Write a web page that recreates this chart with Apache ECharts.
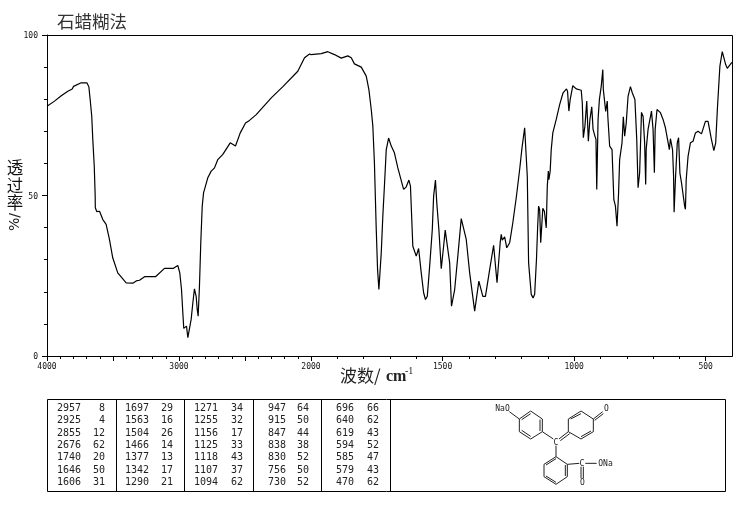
<!DOCTYPE html>
<html><head><meta charset="utf-8">
<style>html,body{margin:0;padding:0;background:#fff}#c{width:737px;height:510px}</style>
<script src="https://cdn.jsdelivr.net/npm/echarts@6/dist/echarts.min.js"></script></head>
<body><div id="c"></div>
<script>
const wavenumbers=[4000,3943,3892,3842,3809,3799,3741,3698,3683,3673,3661,3653,3642,3635,3634,3623,3602,3577,3552,3527,3502,3464,3400,3350,3324,3299,3261,3178,3110,3042,3009,2994,2981,2971,2964,2956,2943,2933,2920,2908,2895,2883,2870,2862,2855,2845,2835,2824,2814,2782,2756,2731,2706,2668,2612,2572,2536,2496,2466,2415,2301,2213,2100,2049,2011,2000,
1993,1961,1936,1911,1885,1860,1847,1835,1809,1790,1780,1771,1765,1759,1752,1747,1742,1738,1733,1727,1721,1714,1705,1699,1695,1683,1670,1648,1638,1628,1622,1613,1600,1591,1586,1581,1572,1565,1558,1549,1539,1534,1527,1522,1514,1505,1496,1490,1484,1473,1466,1454,1442,1429,1423,1410,1397,1378,1374,1362,1347,1337,1321,1306,1301,1293,1286,1281,1277,1273,1268,1264,1256,1245,1233,1220,1207,1198,1192,1188,1183,1178,1173,1163,1156,1150,1143,1139,1135,1131,1127,1122,1119,1113,1106,1102,1098,1096,1091,1087,1081,1068,1055,1042,1029,1025,1020,1015,1005,992,973,969,965,959,952,946,940,933,928,921,917,914,909,904,897,891,889,884,880,874,872,865,856,849,843,837,831,827,818,813,808,802,795,786,779,769,762,757,751,744,738,732,728,726,719,706,700,695,692,685,672,662,653,646,638,634,630,626,622,620,615,608,603,598,592,586,580,577,574,567,558,548,539,529,516,501,491,478,469,462,455,446,437,432,424,418,412,402,400];
const transmittance=[77.8,79.4,81.1,82.5,83.2,84,85.1,85.1,83.9,79.9,74.7,67.4,59.1,49.8,46.2,45,45.1,42.5,41,36.3,30.6,25.9,22.8,22.7,23.4,23.6,24.7,24.7,27.3,27.3,28.2,25.9,20.7,13.5,8.6,9.1,9.3,5.7,5.1,11.4,16.6,20.9,18.6,14.5,12.4,21.7,35.3,46.7,50.8,55.5,57.6,58.6,61.2,62.8,66.4,65.4,69.5,72.6,73.4,75.2,80.4,83.9,88.7,92.9,94.1,93.9,
93.9,94.2,94.8,93.9,92.8,93.5,92.9,91,90,87.2,83,76.8,71.6,60.2,39.4,26.9,20.7,20.7,32.2,43.6,52.9,64.3,67.9,67.9,65.4,63.3,58.6,51.9,52.7,54.8,52.9,34.2,31.1,33.5,33.5,25.9,19.7,17.6,18.6,28,39.4,49.8,54.8,47.7,39.4,27.2,34.2,39.2,38.9,29,15.5,20.7,31.1,42.8,42.8,36.3,25.9,14,14.2,23.3,18.6,18.6,26.9,34.5,34.2,22.8,22.6,35.3,37.9,36.1,36.1,37.1,33.7,35.3,41.5,49.3,58.1,64.9,65.4,71.1,70.6,56,29,19.2,18.1,19.2,30.3,39.4,46.7,45.6,35.3,35.3,46,45.1,39.9,52.9,57.6,54.9,57.6,64.3,69.5,73.7,78.3,82,83.2,82.5,76.3,79.9,84.2,83.2,82.8,78.9,68,71.6,79.4,66.9,73.7,77.6,70.6,68.5,67.5,51.9,73.7,79.9,84,89.2,83,83,76.2,79.4,74.7,65.4,64.3,48.7,46.7,40.4,50.9,61.2,66.4,74.5,68.5,72.6,80.9,83.9,82,79.9,67.4,52.4,57.1,75.9,74.7,66.4,53.4,64.5,70.6,76.3,70.6,57.1,70.6,76.8,75.8,73.7,71.1,70.6,64.3,67.7,67.7,64.3,56,44.8,55,66.4,68,57,54,53.4,46.7,45.7,55,62.2,66.4,66.9,69.5,70,69.2,73.1,73.1,67.4,64,66.4,77.8,90.3,94.8,95,90.8,89.6,89.8,91.3,91.5];
const xTickLabels=[4000,3000,2000,1500,1000,500];
const xMajorTicksRight=[500,1000,1500,2000];
const yTickLabels=[0,50,100];
const peakWavenumbers=[[2957,2925,2855,2676,1740,1646,1606],[1697,1563,1504,1466,1377,1342,1290],[1271,1255,1156,1125,1118,1107,1094],[947,915,847,838,830,756,730],[696,640,619,594,585,579,470]];
const peakValues=[[8,4,12,62,20,50,31],[29,16,26,14,13,17,21],[34,32,17,33,43,37,62],[64,50,44,38,52,50,52],[66,62,43,52,47,43,62]];
const titleText='石蜡糊法';

const ink='#111';
const tickFont={fontFamily:'DejaVu Sans Mono',fontSize:8,color:ink};
const pairs=wavenumbers.map((w,i)=>[w,transmittance[i]]);
const leftData=pairs.filter(p=>p[0]>=2000), rightData=pairs.filter(p=>p[0]<=2000);
const lineS=(xi,yi,data)=>({type:'line',xAxisIndex:xi,yAxisIndex:yi,data,showSymbol:false,symbol:'none',smooth:false,silent:true,animation:false,lineStyle:{color:'#000',width:1.2},clip:true});
const axisL={lineStyle:{color:'#000',width:1},onZero:false};

const g=[];
g.push({type:'rect',shape:{x:47.5,y:35.5,width:685,height:321},style:{fill:'none',stroke:'#000',lineWidth:1},silent:true});
g.push({type:'text',x:57,y:21,style:{text:titleText,fontFamily:'Noto Sans CJK SC',fontSize:17.5,fill:'#333',textVerticalAlign:'middle'}});
// vertical y-axis title
['透','过','率'].forEach((c,i)=>g.push({type:'text',x:15,y:168+i*17.5,style:{text:c,fontFamily:'Noto Sans CJK SC',fontSize:16.5,fill:'#111',textAlign:'center',textVerticalAlign:'middle'}}));
g.push({type:'text',x:15,y:222,rotation:Math.PI/2,style:{text:'%/',fontFamily:'DejaVu Sans',fontSize:14,fill:'#222',textAlign:'center',textVerticalAlign:'middle'}});
// x-axis title
g.push({type:'text',x:340,y:376,style:{text:'波数/',fontFamily:'Noto Sans CJK SC',fontSize:17,fill:'#222',textVerticalAlign:'middle'}});
g.push({type:'text',x:386,y:377,style:{text:'cm',fontFamily:'Liberation Serif',fontWeight:'bold',fontSize:16,fill:'#222',textVerticalAlign:'middle'}});
g.push({type:'text',x:405,y:371,style:{text:'-1',fontFamily:'Liberation Serif',fontSize:10,fill:'#222',textVerticalAlign:'middle'}});
// peak table frame
g.push({type:'rect',shape:{x:47.5,y:399.5,width:678,height:92},style:{fill:'none',stroke:'#000',lineWidth:1},silent:true});
[116.5,184.5,253.5,321.5,390.5].forEach(x=>g.push({type:'line',shape:{x1:x,y1:399.5,x2:x,y2:491.5},style:{stroke:'#000',lineWidth:1},silent:true}));
const colW=[81,149,218,286,354], colV=[105,173,243,309,379];
peakWavenumbers.forEach((col,c)=>col.forEach((w,r)=>{
  const y=408.3+r*12.33;
  const tf={fontFamily:'DejaVu Sans Mono',fontSize:10,fill:'#222',textAlign:'right',textVerticalAlign:'middle'};
  g.push({type:'text',x:colW[c],y,style:Object.assign({text:String(w)},tf)});
  g.push({type:'text',x:colV[c],y,style:Object.assign({text:String(peakValues[c][r])},tf)});
}));
// structure diagram
const sx=v=>480+v/3, sy=v=>395+v/3;
const bonds=[[118,72,152,48],[152,48,187,72],[187,72,187,110],[187,110,152,132],[152,132,118,110],[118,110,118,72],[125,74,152,56],[180,74,180,108],[152,124,125,106],
[88,50,118,72],[187,110,220,132],
[265,72,303,48],[303,48,340,72],[340,72,340,110],[340,110,303,132],[303,132,265,110],[265,110,265,72],[272,72,303,56],[333,108,303,125],
[340,72,368,50],[344,76,370,56],[237,132,265,110],[241,137,269,116],
[228,152,228,185],[228,185,262,208],[262,208,262,245],[262,245,228,268],[228,268,192,245],[192,245,192,208],[192,208,228,185],[198,210,228,191],[198,243,228,262],[256,210,256,243],
[262,208,298,205],[316,205,350,205],[303,215,303,250],[310,215,310,250]];
bonds.forEach(b=>g.push({type:'line',shape:{x1:sx(b[0]),y1:sy(b[1]),x2:sx(b[2]),y2:sy(b[3])},style:{stroke:'#222',lineWidth:1},silent:true}));
[['NaO',502.5,408.5],['O',606.5,408.5],['C',556,442.5],['C',582,463.5],['ONa',605.5,463.5],['O',582.5,482.5]].forEach(t=>
  g.push({type:'text',x:t[1],y:t[2],style:{text:t[0],fontFamily:'DejaVu Sans Mono',fontSize:8,fill:'#222',textAlign:'center',textVerticalAlign:'middle'}}));

const chart=echarts.init(document.getElementById('c'),null,{renderer:'canvas'});
chart.setOption({
  animation:false,backgroundColor:'#fff',
  grid:[{left:47,top:35,width:264,height:321,containLabel:false},{left:311,top:35,width:421,height:321,containLabel:false}],
  xAxis:[
    {type:'value',gridIndex:0,inverse:true,min:2000,max:4000,interval:500,axisLine:axisL,splitLine:{show:false},
     axisTick:{show:true,length:5,lineStyle:{color:'#000'}},minorTick:{show:true,splitNumber:5,length:3,lineStyle:{color:'#000'}},
     axisLabel:Object.assign({margin:7,hideOverlap:false,formatter:v=>xTickLabels.includes(v)?String(v):''},tickFont)},
    {type:'value',gridIndex:1,inverse:true,min:400,max:2000,interval:100,axisLine:axisL,splitLine:{show:false},
     axisTick:{show:true,length:3,lineStyle:{color:'#000'}},
     axisLabel:Object.assign({margin:7,showMinLabel:false,showMaxLabel:false,hideOverlap:false,formatter:v=>(xTickLabels.includes(v)&&v!==2000)?String(v):''},tickFont)},
    {type:'value',gridIndex:1,inverse:true,min:400,max:2000,position:'bottom',axisLine:{show:false,onZero:false},splitLine:{show:false},
     axisTick:{show:true,length:5,customValues:xMajorTicksRight,lineStyle:{color:'#000'}},axisLabel:{show:false}}
  ],
  yAxis:[
    {type:'value',gridIndex:0,min:0,max:100,interval:50,axisLine:axisL,splitLine:{show:false},
     axisTick:{show:true,length:5,lineStyle:{color:'#000'}},minorTick:{show:true,splitNumber:5,length:3,lineStyle:{color:'#000'}},
     axisLabel:Object.assign({margin:9,verticalAlign:'top',lineHeight:8,padding:[-3,0,0,0],formatter:v=>yTickLabels.includes(v)?String(v):''},tickFont)},
    {type:'value',gridIndex:1,min:0,max:100,show:false}
  ],
  series:[lineS(0,0,leftData),lineS(1,1,rightData)],
  graphic:{elements:g}
});
</script></body></html>
